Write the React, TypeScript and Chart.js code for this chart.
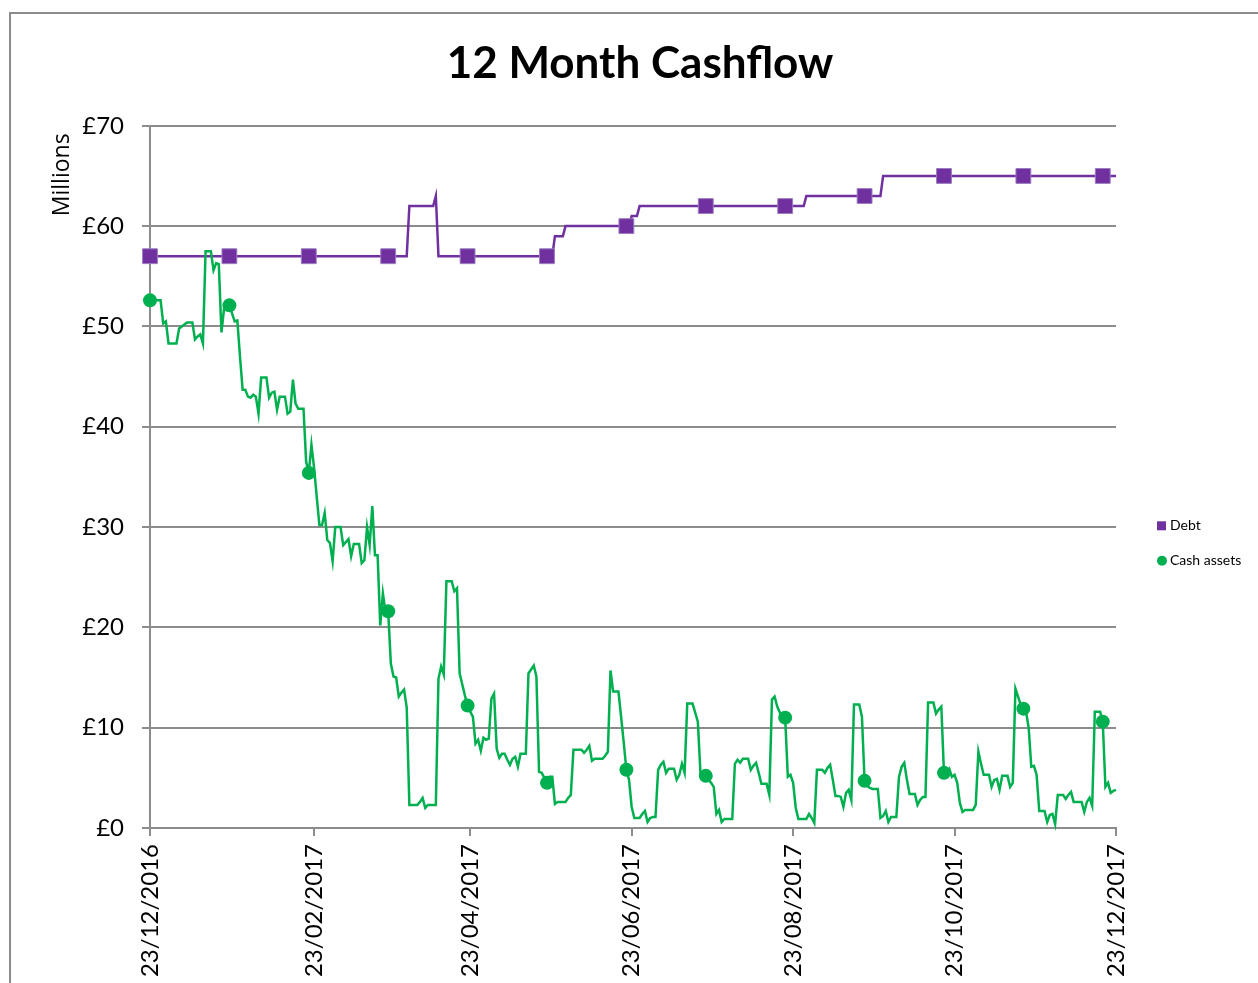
import React, { useEffect, useRef } from 'react';
import { Chart, registerables } from 'chart.js';

Chart.register(...registerables);

const FONT = 'Lato, "Open Sans", sans-serif';

// x axis: day index 0 = 23/12/2016 ... 365 = 23/12/2017
const tickDays = [0, 62, 121, 182, 243, 304, 365];
const tickLabels = ['23/12/2016', '23/02/2017', '23/04/2017', '23/06/2017', '23/08/2017', '23/10/2017', '23/12/2017'];
const markerEvery = 30;

const seriesNames = ['Debt', 'Cash assets'];
const yAxisTitle = 'Millions';
const chartTitle = '12 Month Cashflow';

// Debt (£ millions), daily, in 30-day blocks
const debt0 = [57, 57, 57, 57, 57, 57, 57, 57, 57, 57, 57, 57, 57, 57, 57, 57, 57, 57, 57, 57, 57, 57, 57, 57, 57, 57, 57, 57, 57, 57];
const debt1 = [57, 57, 57, 57, 57, 57, 57, 57, 57, 57, 57, 57, 57, 57, 57, 57, 57, 57, 57, 57, 57, 57, 57, 57, 57, 57, 57, 57, 57, 57];
const debt2 = [57, 57, 57, 57, 57, 57, 57, 57, 57, 57, 57, 57, 57, 57, 57, 57, 57, 57, 57, 57, 57, 57, 57, 57, 57, 57, 57, 57, 57, 57];
const debt3 = [57, 57, 57, 57, 57, 57, 57, 57, 62, 62, 62, 62, 62, 62, 62, 62, 62, 62, 63, 57, 57, 57, 57, 57, 57, 57, 57, 57, 57, 57];
const debt4 = [57, 57, 57, 57, 57, 57, 57, 57, 57, 57, 57, 57, 57, 57, 57, 57, 57, 57, 57, 57, 57, 57, 57, 57, 57, 57, 57, 57, 57, 57];
const debt5 = [57, 57, 57, 59, 59, 59, 59, 60, 60, 60, 60, 60, 60, 60, 60, 60, 60, 60, 60, 60, 60, 60, 60, 60, 60, 60, 60, 60, 60, 60];
const debt6 = [60, 60, 61, 61, 61, 62, 62, 62, 62, 62, 62, 62, 62, 62, 62, 62, 62, 62, 62, 62, 62, 62, 62, 62, 62, 62, 62, 62, 62, 62];
const debt7 = [62, 62, 62, 62, 62, 62, 62, 62, 62, 62, 62, 62, 62, 62, 62, 62, 62, 62, 62, 62, 62, 62, 62, 62, 62, 62, 62, 62, 62, 62];
const debt8 = [62, 62, 62, 62, 62, 62, 62, 62, 63, 63, 63, 63, 63, 63, 63, 63, 63, 63, 63, 63, 63, 63, 63, 63, 63, 63, 63, 63, 63, 63];
const debt9 = [63, 63, 63, 63, 63, 63, 63, 65, 65, 65, 65, 65, 65, 65, 65, 65, 65, 65, 65, 65, 65, 65, 65, 65, 65, 65, 65, 65, 65, 65];
const debt10 = [65, 65, 65, 65, 65, 65, 65, 65, 65, 65, 65, 65, 65, 65, 65, 65, 65, 65, 65, 65, 65, 65, 65, 65, 65, 65, 65, 65, 65, 65];
const debt11 = [65, 65, 65, 65, 65, 65, 65, 65, 65, 65, 65, 65, 65, 65, 65, 65, 65, 65, 65, 65, 65, 65, 65, 65, 65, 65, 65, 65, 65, 65];
const debt12 = [65, 65, 65, 65, 65, 65];

// Cash assets (£ millions), daily, in 30-day blocks
const cash0 = [52.6, 52.6, 52.6, 52.6, 52.6, 50.3, 50.5, 48.3, 48.3, 48.3, 48.3, 49.8, 50.0, 50.2, 50.4, 50.4, 50.4, 48.7, 49.0, 49.2, 48.3, 57.5, 57.5, 57.5, 55.6, 56.3, 56.2, 49.4, 51.8, 52.1];
const cash1 = [52.1, 51.3, 50.5, 50.6, 47.0, 43.7, 43.7, 43.0, 42.9, 43.2, 43.0, 41.3, 44.9, 44.9, 44.9, 42.9, 43.4, 43.5, 41.7, 43.0, 43.0, 43.0, 41.3, 41.5, 44.7, 42.3, 41.8, 41.8, 41.8, 36.5];
const cash2 = [35.4, 38.2, 35.9, 33.0, 30.2, 30.2, 31.4, 28.7, 28.4, 26.6, 30.0, 30.0, 30.0, 28.2, 28.5, 28.8, 27.1, 28.3, 28.3, 28.3, 26.4, 26.7, 30.0, 28.2, 32.1, 27.2, 27.2, 20.2, 23.4, 21.5];
const cash3 = [21.6, 16.4, 15.1, 15.0, 13.1, 13.5, 13.8, 12.0, 2.3, 2.3, 2.3, 2.3, 2.6, 3.0, 2.0, 2.3, 2.3, 2.3, 2.3, 14.9, 16.1, 15.3, 24.6, 24.6, 24.6, 23.6, 23.9, 15.4, 14.3, 13.2];
const cash4 = [12.2, 11.6, 11.1, 8.4, 8.8, 7.7, 9.0, 8.8, 8.9, 12.9, 13.4, 7.9, 7.0, 7.4, 7.4, 6.8, 6.3, 6.9, 7.1, 6.1, 7.4, 7.4, 7.4, 15.4, 15.8, 16.2, 15.1, 5.6, 5.5, 5.0];
const cash5 = [4.5, 5.1, 5.1, 2.4, 2.6, 2.6, 2.6, 2.6, 3.0, 3.3, 7.8, 7.8, 7.8, 7.8, 7.5, 7.8, 8.2, 6.7, 6.9, 6.9, 6.9, 6.9, 7.2, 7.6, 15.7, 13.6, 13.6, 13.6, 11.1, 8.5];
const cash6 = [5.8, 4.8, 2.1, 1.0, 1.0, 1.0, 1.4, 1.7, 0.6, 1.0, 1.1, 1.1, 5.8, 6.3, 6.6, 5.5, 5.9, 5.9, 5.9, 4.8, 5.3, 6.4, 5.5, 12.4, 12.4, 12.4, 11.5, 10.6, 5.4, 5.3];
const cash7 = [5.2, 4.8, 4.5, 4.1, 1.4, 1.8, 0.6, 0.9, 0.9, 0.9, 0.9, 6.4, 6.8, 6.5, 6.9, 6.9, 6.9, 5.8, 6.2, 6.5, 5.5, 4.4, 4.4, 4.4, 3.3, 12.8, 13.1, 12.1, 11.5, 11.0];
const cash8 = [11.0, 5.1, 5.3, 4.5, 2.0, 0.9, 0.9, 0.9, 0.9, 1.4, 1.0, 0.5, 5.8, 5.8, 5.8, 5.5, 6.0, 6.3, 4.8, 3.2, 3.2, 3.1, 2.1, 3.5, 3.8, 2.8, 12.3, 12.3, 12.3, 11.1];
const cash9 = [4.7, 4.2, 4.0, 3.9, 3.9, 3.9, 1.0, 1.2, 1.7, 0.6, 1.1, 1.1, 1.1, 5.1, 6.1, 6.5, 4.8, 3.4, 3.4, 3.4, 2.3, 2.8, 3.1, 3.1, 12.5, 12.5, 12.5, 11.4, 11.8, 12.1];
const cash10 = [5.5, 5.6, 5.9, 5.1, 5.3, 4.5, 2.5, 1.6, 1.8, 1.8, 1.8, 1.8, 2.3, 7.6, 6.4, 5.3, 5.3, 5.3, 4.1, 4.8, 4.9, 3.8, 5.2, 5.2, 5.2, 4.1, 4.5, 13.9, 13.1, 12.3];
const cash11 = [11.9, 11.6, 10.0, 6.1, 6.2, 5.3, 1.7, 1.7, 1.7, 0.6, 1.3, 1.4, 0.4, 3.3, 3.3, 3.3, 2.9, 3.3, 3.6, 2.6, 2.6, 2.6, 2.6, 1.6, 2.6, 3.0, 2.2, 11.6, 11.6, 11.6];
const cash12 = [10.6, 4.1, 4.5, 3.5, 3.7, 3.8];

const debtValues = [...debt0, ...debt1, ...debt2, ...debt3, ...debt4, ...debt5, ...debt6, ...debt7, ...debt8, ...debt9, ...debt10, ...debt11, ...debt12];
const cashValues = [...cash0, ...cash1, ...cash2, ...cash3, ...cash4, ...cash5, ...cash6, ...cash7, ...cash8, ...cash9, ...cash10, ...cash11, ...cash12];

const DEBT_COLOR = '#7030A0';
const CASH_COLOR = '#00B050';
const GRID_COLOR = '#8c8c8c';

const sideTexts = {
  id: 'sideTexts',
  afterDraw(chart: any) {
    const { ctx, chartArea } = chart;
    ctx.save();
    // y axis title, rotated, near the top of the axis
    ctx.save();
    ctx.translate(chartArea.left - 88, chartArea.top + 49);
    ctx.rotate(-Math.PI / 2);
    ctx.fillStyle = '#000';
    ctx.font = '23px "Open Sans", sans-serif';
    ctx.textAlign = 'center';
    ctx.textBaseline = 'middle';
    ctx.fillText(yAxisTitle, 0, 0);
    ctx.restore();
    // legend at the right
    const x = chartArea.right + 41;
    const y1 = chartArea.top + 400;
    const y2 = chartArea.top + 435;
    ctx.fillStyle = DEBT_COLOR;
    ctx.fillRect(x, y1 - 4.5, 9, 9);
    ctx.fillStyle = CASH_COLOR;
    ctx.beginPath();
    ctx.arc(x + 5, y2, 5, 0, Math.PI * 2);
    ctx.fill();
    ctx.fillStyle = '#000';
    ctx.font = '14px ' + FONT;
    ctx.textBaseline = 'middle';
    ctx.textAlign = 'left';
    ctx.fillText(seriesNames[0], x + 13, y1);
    ctx.fillText(seriesNames[1], x + 13, y2);
    ctx.restore();
  },
};

export default function App() {
  const canvasRef = useRef<HTMLCanvasElement | null>(null);

  useEffect(() => {
    if (!canvasRef.current) return;
    const markerRadius = (r: number) => (c: any) => (c.dataIndex % markerEvery === 0 ? r : 0);
    const chart = new Chart(canvasRef.current, {
      type: 'line',
      data: {
        datasets: [
          {
            label: seriesNames[0],
            data: debtValues.map((v, i) => ({ x: i, y: v })),
            borderColor: DEBT_COLOR,
            backgroundColor: DEBT_COLOR,
            borderWidth: 2.5,
            pointStyle: 'rect',
            pointRadius: markerRadius(10.5),
            pointHoverRadius: markerRadius(10.5),
            pointBackgroundColor: DEBT_COLOR,
            pointBorderColor: '#9b7cc0',
            pointBorderWidth: 1,
            tension: 0,
            clip: false,
            order: 1,
          },
          {
            label: seriesNames[1],
            data: cashValues.map((v, i) => ({ x: i, y: v })),
            borderColor: CASH_COLOR,
            backgroundColor: CASH_COLOR,
            borderWidth: 2.5,
            pointStyle: 'circle',
            pointRadius: markerRadius(7),
            pointHoverRadius: markerRadius(7),
            pointBackgroundColor: CASH_COLOR,
            pointBorderColor: CASH_COLOR,
            pointBorderWidth: 0,
            tension: 0,
            clip: false,
            order: 0,
          },
        ],
      },
      options: {
        animation: false,
        responsive: true,
        maintainAspectRatio: false,
        devicePixelRatio: 1,
        events: [],
        layout: { padding: 0 },
        plugins: {
          legend: { display: false },
          tooltip: { enabled: false },
          title: {
            display: true,
            text: chartTitle,
            color: '#000',
            font: { family: FONT, size: 44, weight: 'bold' },
            padding: { top: 37, bottom: 36 },
          },
        },
        scales: {
          x: {
            type: 'linear',
            min: 0,
            max: 365,
            afterBuildTicks: (s: any) => {
              s.ticks = tickDays.map((v) => ({ value: v }));
            },
            afterFit: (s: any) => {
              s.height = 155;
            },
            ticks: {
              autoSkip: false,
              maxRotation: 90,
              minRotation: 90,
              padding: 8,
              color: '#000',
              font: { family: FONT, size: 24 },
              callback: (v: any) => {
                const k = tickDays.indexOf(Number(v));
                return k >= 0 ? tickLabels[k] : '';
              },
            },
            grid: {
              drawOnChartArea: false,
              drawTicks: true,
              tickLength: 8,
              color: GRID_COLOR,
              lineWidth: 2,
            },
            border: { color: GRID_COLOR, width: 2 },
          },
          y: {
            min: 0,
            max: 70,
            afterFit: (s: any) => {
              s.width = 128;
            },
            ticks: {
              stepSize: 10,
              padding: 18,
              color: '#000',
              font: { family: FONT, size: 24 },
              callback: (v: any) => '£' + v,
            },
            grid: {
              color: GRID_COLOR,
              lineWidth: 2,
              tickLength: 8,
              drawTicks: true,
            },
            border: { color: GRID_COLOR, width: 2 },
          },
          legendSpace: {
            type: 'linear',
            position: 'right',
            display: true,
            afterFit: (s: any) => {
              s.width = 142;
            },
            ticks: { display: false },
            grid: { display: false, drawTicks: false },
            border: { display: false },
          },
        },
      },
      plugins: [sideTexts],
    } as any);
    return () => chart.destroy();
  }, []);

  return (
    <div style={{ position: 'absolute', left: 0, top: 0, width: 1258, height: 983, background: '#fff', overflow: 'hidden' }}>
      <div
        style={{
          position: 'absolute',
          left: 9,
          top: 12,
          right: -4,
          bottom: -4,
          borderLeft: '2px solid #8c8c8c',
          borderTop: '2px solid #8c8c8c',
        }}
      />
      <div style={{ position: 'absolute', left: 22, top: 0, width: 1236, height: 983 }}>
        <canvas ref={canvasRef} />
      </div>
    </div>
  );
}
